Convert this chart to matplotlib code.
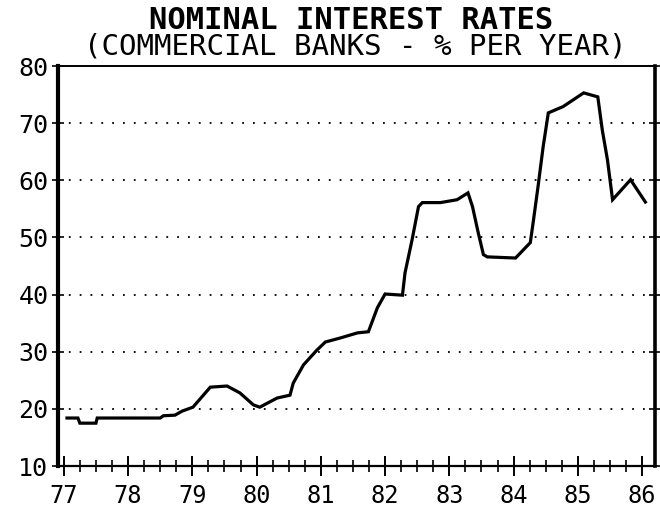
"""
Nominal interest rates, commercial banks (% per year), 1977-1986.
Redrawn from a dot-matrix printout.
"""
import numpy as np
import matplotlib
matplotlib.use('Agg')
import matplotlib.pyplot as plt
from matplotlib.ticker import MultipleLocator

# ── Data ─────────────────────────────────────────────────────────────────────
years = [77.05, 77.22, 77.25, 77.50, 77.52, 78.50, 78.55, 78.73, 78.84, 79.01,
         79.28, 79.54, 79.74, 79.95, 80.05, 80.32, 80.52, 80.57, 80.73, 80.94,
         81.07, 81.30, 81.57, 81.74, 81.88, 82.00, 82.27, 82.31, 82.42, 82.52,
         82.58, 82.86, 83.12, 83.29, 83.36, 83.45, 83.53, 83.59, 84.03, 84.26,
         84.31, 84.38, 84.46, 84.54, 84.77, 85.09, 85.31, 85.38, 85.46, 85.54,
         85.82, 86.05]
rates = [18.4, 18.4, 17.5, 17.5, 18.4, 18.4, 18.8, 18.9, 19.6, 20.3,
         23.8, 24.0, 22.8, 20.7, 20.3, 21.9, 22.4, 24.5, 27.7, 30.3,
         31.7, 32.4, 33.3, 33.5, 37.7, 40.1, 39.9, 43.8, 49.6, 55.4,
         56.1, 56.1, 56.6, 57.8, 55.4, 50.8, 47.0, 46.6, 46.4, 49.1,
         53.1, 58.9, 65.9, 71.8, 72.9, 75.3, 74.6, 68.8, 63.6, 56.6,
         60.1, 56.2]

year_ticks = list(range(77, 87))
rate_ticks = [10, 20, 30, 40, 50, 60, 70, 80]
grid_levels = [20, 30, 40, 50, 60, 70]

title = 'NOMINAL INTEREST RATES'
subtitle = '(COMMERCIAL BANKS - % PER YEAR)'

# ── Style ────────────────────────────────────────────────────────────────────
plt.rcParams.update({
    'font.family': 'DejaVu Sans Mono',
    'figure.facecolor': 'white',
})

fig = plt.figure(figsize=(6.6, 5.15), dpi=100)
ax = fig.add_axes([0.0879, 0.0951, 0.9045, 0.7767])

# dotted guide lines
for lvl in grid_levels:
    ax.axhline(lvl, color='black', lw=1.3, ls=(0, (1, 5)), zorder=1)

ax.plot(years, rates, color='black', lw=2.3, solid_joinstyle='miter', zorder=3)

ax.set_xlim(76.91, 86.2)
ax.set_ylim(10, 80)

# ── Axes cosmetics ───────────────────────────────────────────────────────────
ax.spines['left'].set_linewidth(3.0)
ax.spines['right'].set_linewidth(2.6)
ax.spines['top'].set_linewidth(1.4)
ax.spines['bottom'].set_linewidth(1.6)

ax.set_xticks(year_ticks)
ax.set_xticklabels([str(y) for y in year_ticks])
ax.xaxis.set_minor_locator(MultipleLocator(0.25))
ax.tick_params(axis='x', which='major', direction='inout', length=14, width=1.4,
               labelsize=17, pad=6)
ax.tick_params(axis='x', which='minor', direction='inout', length=8, width=1.2)

ax.set_yticks(rate_ticks)
ax.set_yticklabels([str(r) for r in rate_ticks])
ax.tick_params(axis='y', which='major', direction='inout', length=8, width=1.2,
               labelsize=18, pad=3, right=True)

fig.text(0.532, 0.961, title, ha='center', va='center',
         fontsize=22, fontweight='bold')
fig.text(0.539, 0.909, subtitle, ha='center', va='center', fontsize=21)

fig.savefig('out.png', dpi=100)
